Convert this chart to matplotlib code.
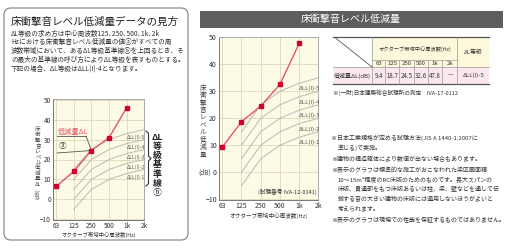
import matplotlib.pyplot as plt
import matplotlib.ticker as mticker
from matplotlib.patches import FancyBboxPatch, Rectangle

plt.rcParams['font.family'] = ['Noto Sans CJK JP', 'DejaVu Sans']

# data
freqs = [63, 125, 250, 500, 1000, 2000]
freq_labels = ['63', '125', '250', '500', '1k', '2k']
ref_freqs = [125, 250, 500, 1000, 2000]
ref_names = ['ΔLL(I)-1', 'ΔLL(I)-2', 'ΔLL(I)-3', 'ΔLL(I)-4', 'ΔLL(I)-5']
ref_1 = [-5, 5, 10, 13, 15]
ref_2 = [0, 10, 15, 18, 20]
ref_3 = [5, 15, 20, 23, 25]
ref_4 = [10, 20, 25, 28, 30]
ref_5 = [15, 25, 30, 33, 35]
ref_curves = [ref_1, ref_2, ref_3, ref_4, ref_5]
example_dl = [6.5, 14, 24.5, 31, 46]        # left: how to read
measured_dl = [9.4, 18.7, 24.5, 32.6, 47.8]  # right: measured
table_cells = ['9.4', '18.7', '24.5', '32.6', '47.8', '—']
grade = 'ΔLL(I)-5'

para = [
    'ΔL等級の求め方は中心周波数125､250､500､1k､2k',
    'Hzにおける床衝撃音レベル低減量の値ⓐがすべての周',
    '波数帯域において、あるΔL等級基準線ⓑを上回るとき、そ',
    'の最大の基準線の呼び方によりΔL等級を表すものとする。',
    '下記の場合、ΔL等級はΔLL(I)-4となります。',
]
notes = [
    ('※日本工業規格が定める試験方法(JIS A 1440-1:2007に', 0),
    ('準じる)で実施。', 1),
    ('※建物の構造躯体により数値が出ない場合もあります。', 0),
    ('※表示のグラフは標準的な施工がおこなわれた梁区画面積', 0),
    ('10～15m²程度のRC床版のためのものです。長大スパンの', 1),
    ('床版、貫通部をもつ床版あるいは柱、梁、壁などを通して伝', 1),
    ('搬する音の大きい建物の床版には適用しないほうがよいと', 1),
    ('考えられます。', 1),
    ('※表示のグラフは現場での性能を保証するものではありません。', 0),
]
note_y = [138, 147.5, 159, 170.5, 180, 189.5, 199, 208.5, 220]

RED = '#e4576a'
DOT = '#d3002d'
GRID = '#ddd6bb'
CREAM = '#fdfbe6'

fig = plt.figure(figsize=(5.10, 2.49), dpi=100)
bg = fig.add_axes([0, 0, 1, 1], zorder=0)
bg.set_xlim(0, 510)
bg.set_ylim(249, 0)
bg.axis('off')


def chart(ax, dl, fs, lab_fs):
    ax.set_facecolor(CREAM)
    ax.set_xscale('log', base=2)
    ax.set_xlim(63 * 2 ** -0.18, 2000)
    ax.set_ylim(-10.3, 50.3)
    ax.set_xticks(freqs)
    ax.set_xticklabels(freq_labels)
    ax.xaxis.set_minor_locator(mticker.NullLocator())
    ax.set_yticks(range(-10, 51, 10))
    ax.grid(color=GRID, lw=0.6)
    ax.set_axisbelow(True)
    for vals in ref_curves:
        ax.plot(ref_freqs, vals, color='#b8b8b8', lw=0.7, zorder=2)
    for name, vals in zip(ref_names, ref_curves):
        ax.text(1000, vals[3] - 1.9, name, fontsize=lab_fs, color='#555',
                ha='left', va='center', zorder=3)
    ax.plot(freqs[:len(dl)], dl, color=RED, lw=1.0, marker='s', ms=2.6,
            mfc=DOT, mec=DOT, zorder=4)
    ax.tick_params(length=0, labelsize=fs, colors='#333', pad=1.5)
    for k, sp in ax.spines.items():
        sp.set_color('#777' if k in ('left', 'bottom') else '#aaa')
        sp.set_linewidth(0.7)


# ---------- left panel ----------
bg.add_patch(FancyBboxPatch((4, 8), 184, 232, boxstyle='round,pad=0,rounding_size=7',
                            fc='white', ec='#8c8c8c', lw=0.9))
bg.text(11, 22, '床衝撃音レベル低減量データの見方', fontsize=7.6, color='#222', va='center')
for i, line in enumerate(para):
    bg.text(11, 33.5 + i * 8.7, line, fontsize=4.8, color='#333', va='center')

ax1 = fig.add_axes([53 / 510, 1 - 220 / 249, 91.5 / 510, 121 / 249], zorder=1)
chart(ax1, example_dl, 4.6, 3.6)
ax1.set_xlabel('オクターブ帯域中心周波数(Hz)', fontsize=3.9, color='#333', labelpad=1)

ylab1 = list('床衝撃音レベル低減量') + ['ΔL']
for i, ch in enumerate(ylab1):
    bg.text(38, 129 + i * 5.5, ch, fontsize=4, color='#444', ha='center', va='center')
bg.text(38, 194, '(dB)', fontsize=4, color='#444', ha='center', va='center', rotation=90)

# leader lines to the 250 Hz point
ax1.text(58, 131.5, '低減量ΔL', fontsize=5.2, color=RED, va='center',
         transform=bg.transData, clip_on=False)
ax1.plot([57, 86], [136, 136], color='#555', lw=0.6, transform=bg.transData)
ax1.annotate('', xy=(freqs[2], example_dl[2]), xytext=(86, 136), textcoords=bg.transData,
             arrowprops=dict(arrowstyle='-', color='#555', lw=0.6, shrinkA=0, shrinkB=0))
ax1.text(63, 146, 'ⓐ', fontsize=5.5, color='#333', ha='center', va='center',
         transform=bg.transData)
ax1.annotate('', xy=(freqs[2], example_dl[2]), xytext=(57, 153), textcoords=bg.transData,
             arrowprops=dict(arrowstyle='-', color='#555', lw=0.6, shrinkA=0, shrinkB=0))

# bracket and vertical label
bg.plot([146, 148.5, 148.5, 151, 148.5, 148.5, 146],
        [131, 133.5, 156, 158.5, 161, 183.5, 186], color='#333', lw=0.8)
for i, ch in enumerate(['ΔL', '等', '級', '基', '準', '線', 'ⓑ']):
    bg.text(157, 137 + i * 9.3, ch, fontsize=6.4, color='#222', ha='center',
            va='center', fontweight='bold' if i < 6 else 'normal')

# ---------- right panel ----------
bg.add_patch(Rectangle((200, 10.5), 303, 17, fc='#5e5e5e', ec='none'))
bg.text(351, 19, '床衝撃音レベル低減量', fontsize=7.2, color='white', ha='center', va='center')

ax2 = fig.add_axes([219 / 510, 1 - 200 / 249, 99.5 / 510, 163.5 / 249], zorder=1)
chart(ax2, measured_dl, 5.0, 4.2)
ax2.set_xlabel('オクターブ帯域中心周波数(Hz)', fontsize=4.1, color='#333', labelpad=2)
ax2.text(1900, -7.3, '(試験番号 IVA-12-0141)', fontsize=4.1, color='#333',
         ha='right', va='center', zorder=5)
for i, ch in enumerate('床衝撃音レベル低減量'):
    bg.text(203, 88 + i * 7.4, ch, fontsize=4.8, color='#444', ha='center', va='center')
bg.text(205, 173, '(dB)', fontsize=4.5, color='#444', ha='center', va='center')

# table
xe = [333, 372, 385.5, 399.5, 414, 428, 442.5, 457.5, 489]
y0, y1, y2, y3 = 36.5, 60, 67, 84
bg.add_patch(Rectangle((xe[1], y0), xe[-1] - xe[1], y2 - y0, fc='#fdf8dc', ec='none'))
bg.add_patch(Rectangle((xe[0], y2), xe[-1] - xe[0], y3 - y2, fc='#fbe7ee', ec='none'))
for yy in (y0, y3):
    bg.plot([xe[0], xe[-1]], [yy, yy], color='#555', lw=0.9)
bg.plot([xe[0], xe[-1]], [y2, y2], color='#999', lw=0.5)
bg.plot([xe[1], xe[-2]], [y1, y1], color='#999', lw=0.5)
for xx in (xe[1], xe[-2]):
    bg.plot([xx, xx], [y0, y3], color='#999', lw=0.5)
for xx in xe[2:-2]:
    bg.plot([xx, xx], [y1, y3], color='#999', lw=0.5)
bg.plot([xe[0] + 2, xe[1]], [y0 + 1, y2], color='#555', lw=0.6)
bg.text((xe[1] + xe[-2]) / 2, 48.5, 'オクターブ帯域中心周波数(Hz)', fontsize=3.8,
        color='#333', ha='center', va='center')
bg.text((xe[-2] + xe[-1]) / 2, 52, 'ΔL等級', fontsize=4.2, color='#333',
        ha='center', va='center')
for i, lab in enumerate(freq_labels):
    bg.text((xe[i + 1] + xe[i + 2]) / 2, 63.6, lab, fontsize=4.3, color='#333',
            ha='center', va='center')
    bg.text((xe[i + 1] + xe[i + 2]) / 2, 75.5, table_cells[i], fontsize=4.4,
            color='#333', ha='center', va='center')
bg.text((xe[0] + xe[1]) / 2, 75.5, '低減量ΔL(dB)', fontsize=4.3, color='#333',
        ha='center', va='center')
bg.text((xe[-2] + xe[-1]) / 2, 75.5, grade, fontsize=4.3, color='#333',
        ha='center', va='center')
bg.text(333, 93, '※(一財)日本建築総合試験所の測定　IVA-17-0112', fontsize=4.1,
        color='#333', va='center')

for (line, indent), yy in zip(notes, note_y):
    bg.text(331 + indent * 6.5, yy, line, fontsize=4.3, color='#333', va='center')

fig.savefig('out.png', dpi=100)
